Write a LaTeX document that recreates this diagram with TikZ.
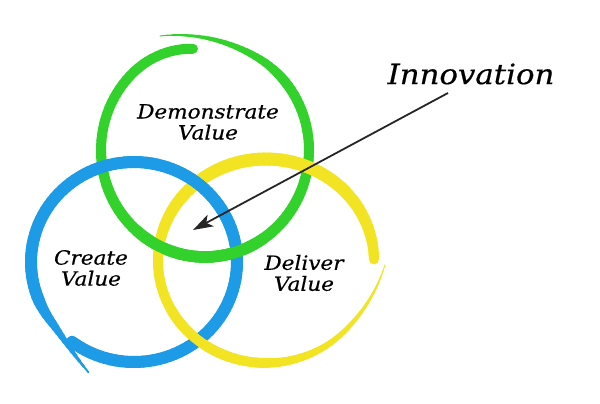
\documentclass[tikz,border=0pt]{standalone}
\usepackage{fontspec}
\newfontfamily\handfont{DejaVu Serif}[FakeStretch=1.1,FakeBold=0.5]
\usetikzlibrary{arrows.meta}
\definecolor{gr}{HTML}{33D12B}
\definecolor{bl}{HTML}{1E9BE6}
\definecolor{ye}{HTML}{F2E422}
\newcommand\greenpart[2]{%
  \foreach \i in {#1,...,#2}{
    \pgfmathsetmacro\aa{112-3*\i}
    \pgfmathsetmacro\ab{112-3*(\i+1)}
    \pgfmathsetmacro\ea{16*max(0,(\aa-60)/52)^2-5*max(0,(-225-\aa)/38)^2}
    \pgfmathsetmacro\eb{16*max(0,(\ab-60)/52)^2-5*max(0,(-225-\ab)/38)^2}
    \pgfmathsetmacro\w{1+9*min(1,(112-\aa)/70)+1.5*max(0,-sin(\aa))}
    \draw[gr, seg, line width=\w pt] ({205+(104+\ea)*cos(\aa)},{150-(107+\ea)*sin(\aa)}) -- ({205+(104+\eb)*cos(\ab)},{150-(107+\eb)*sin(\ab)});
  }}
\newcommand\yellowpart[2]{%
  \foreach \i in {#1,...,#2}{
    \pgfmathsetmacro\aa{-2-3*\i}
    \pgfmathsetmacro\ab{-2-3*(\i+1)}
    \pgfmathsetmacro\ea{11*max(0,(\aa+45)/43)^2}
    \pgfmathsetmacro\eb{11*max(0,(\ab+45)/43)^2}
    \pgfmathsetmacro\w{1+9*min(1,(-2-\aa)/90)+3*max(0,sin(\aa))}
    \draw[ye, seg, line width=\w pt] ({266+(108+\ea)*cos(\aa)},{261-(102+\ea)*sin(\aa)}) -- ({266+(108+\eb)*cos(\ab)},{261-(102+\eb)*sin(\ab)});
  }}
\newcommand\bluepart[2]{%
  \foreach \i in {#1,...,#2}{
    \pgfmathsetmacro\aa{233+3*\i}
    \pgfmathsetmacro\ab{233+3*(\i+1)}
    \pgfmathsetmacro\ea{20*max(0,(\aa-575)/34)^2}
    \pgfmathsetmacro\eb{20*max(0,(\ab-575)/34)^2}
    \pgfmathsetmacro\w{12-11*max(0,(\aa-560)/49)}
    \draw[bl, seg, line width=\w pt] ({134+(103+\ea)*cos(\aa)},{262-(100+\ea)*sin(\aa)}) -- ({134+(103+\eb)*cos(\ab)},{262-(100+\eb)*sin(\ab)});
  }}
\begin{document}
\begin{tikzpicture}[x=1pt,y=-1pt,
  lbl/.style={font=\handfont\itshape\fontsize{19.6}{21}\selectfont, align=center, text=black, inner sep=0pt},
  seg/.style={line cap=round}]
\useasboundingbox (0,0) rectangle (600,404);
\fill[white] (0,0) rectangle (600,404);
% rings, woven
\greenpart{0}{124}
\yellowpart{0}{118}
\bluepart{0}{124}
\greenpart{56}{80}
\yellowpart{36}{49}
% labels
\node[lbl] (demo) at (208,122) {Demonstrate\\Value};
\node[lbl] (create) at (91,268) {Create\\Value};
\node[lbl] (deliver) at (304,273) {Deliver\\Value};
\node[lbl, font=\handfont\itshape\fontsize{28}{30}\selectfont] (innov) at (471,74) {Innovation};
% arrow
\coordinate (arrs) at (448,93);
\coordinate (arrt) at (193,230);
\draw[-{Stealth[length=20pt,width=13pt,inset=5pt]}, line width=1.8pt, black!85] (arrs) -- (arrt);
\end{tikzpicture}
\end{document}
